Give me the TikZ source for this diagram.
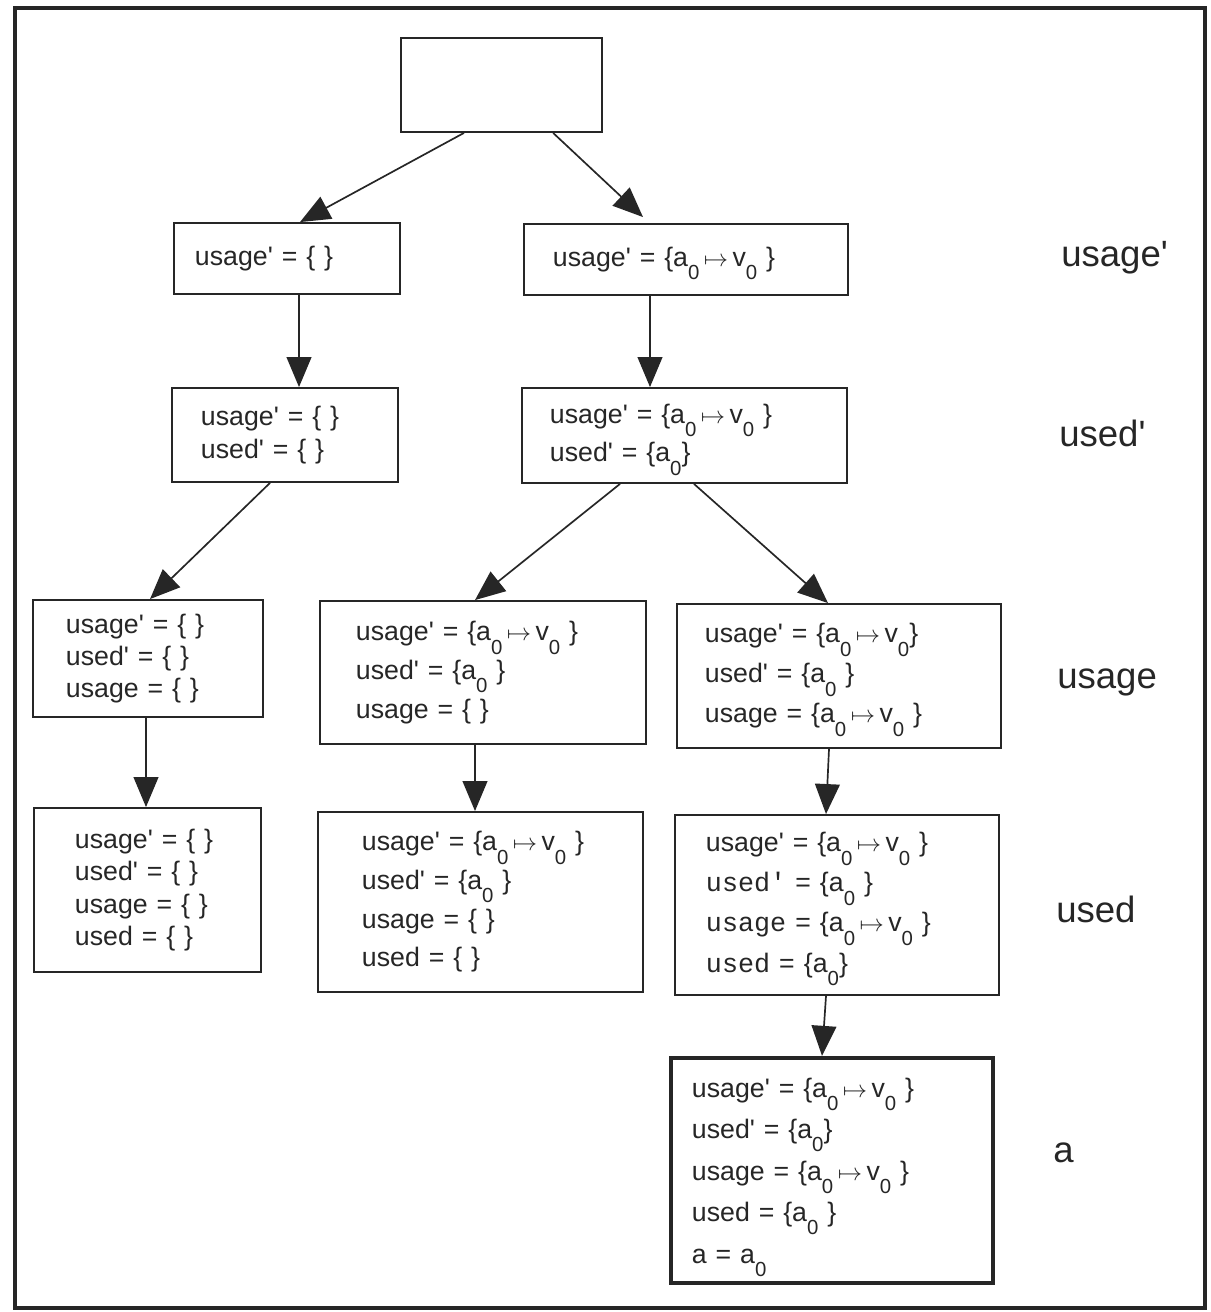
\documentclass[tikz,border=0pt]{standalone}
\usepackage{fontspec}
\setmainfont{Liberation Sans}
\setmonofont{Liberation Mono}
\usetikzlibrary{arrows.meta}
\newcommand{\subz}{\raisebox{-0.5em}[0pt][0pt]{\fontsize{14.5}{14.5}\selectfont 0}}
\newcommand{\pq}{\textquotesingle}
\newcommand{\maps}{\,$\mapsto$\,}
\tikzset{
	box/.style = {
		draw = black!85,
		line width = 1.3pt,
		align = left,
		text = black!85,
		font = \fontsize{19}{23}\selectfont
	},
	wide/.style = {
		font = \fontsize{19}{27.5}\selectfont
	},
	wider/.style = {
		font = \fontsize{19}{28.5}\selectfont
	},
	arr/.style = {
		draw = black!85,
		line width = 1.2pt,
		-{Triangle[length=0.75cm, width=0.62cm]}
	},
	rowlabel/.style = {
		anchor = base west,
		inner sep = 0pt,
		text = black!85,
		font = \fontsize{26}{30}\selectfont
	}
}

\begin{document}
\begin{tikzpicture}[x=0.025cm, y=-0.025cm]
		\useasboundingbox (0,0) rectangle (1210,1312);
		\draw[line width=2.6pt, black!85] (15,8) rectangle (1205,1308);

		\node[box, minimum width=5.025cm, minimum height=2.35cm] (root) at (501.5,85) {};

		\node[box, inner xsep=0.525cm, text width=4.6cm, minimum height=1.775cm] (usageP1) at (287,258.5)
			{usage\pq{} = \{ \}};
		\node[box, inner xsep=0.725cm, text width=6.65cm, minimum height=1.775cm] (usageP2) at (686,259.5)
			{usage\pq{} = \{a\subz\maps v\subz\ \}};

		\node[box, inner xsep=0.725cm, text width=4.2cm, minimum height=2.35cm] (usedP1) at (285,435)
			{usage\pq{} = \{ \}\\ used\pq{} = \{ \}};
		\node[box, wide, inner xsep=0.7cm, text width=6.725cm, minimum height=2.375cm] (usedP2) at (684.5,435.5)
			{usage\pq{} = \{a\subz\maps v\subz\ \}\\ used\pq{} = \{a\subz\}};

		\node[box, inner xsep=0.825cm, text width=4.1cm, minimum height=2.925cm] (usage1) at (148,658.5)
			{usage\pq{} = \{ \}\\ used\pq{} = \{ \}\\ usage = \{ \}};
		\node[box, wide, inner xsep=0.9cm, text width=6.35cm, minimum height=3.575cm] (usage2) at (483,672.5)
			{usage\pq{} = \{a\subz\maps v\subz\ \}\\ used\pq{} = \{a\subz\ \}\\ usage = \{ \}};
		\node[box, wider, inner xsep=0.7cm, text width=6.7cm, minimum height=3.6cm] (usage3) at (839,676)
			{usage\pq{} = \{a\subz\maps v\subz\}\\ used\pq{} = \{a\subz\ \}\\ usage = \{a\subz\maps v\subz\ \}};

		\node[box, inner xsep=1.025cm, text width=3.625cm, minimum height=4.1cm] (used1) at (147.5,890)
			{usage\pq{} = \{ \}\\ used\pq{} = \{ \}\\ usage = \{ \}\\ used = \{ \}};
		\node[box, wide, inner xsep=1.1cm, text width=5.925cm, minimum height=4.5cm] (used2) at (480.5,902)
			{usage\pq{} = \{a\subz\maps v\subz\ \}\\ used\pq{} = \{a\subz\ \}\\ usage = \{ \}\\ used = \{ \}};
		\node[box, wider, inner xsep=0.775cm, text width=6.55cm, minimum height=4.5cm] (used3) at (837,905)
			{usage\pq{} = \{a\subz\maps v\subz\ \}\\
			 {\ttfamily used' =} \{a\subz\ \}\\
			 {\ttfamily usage =} \{a\subz\maps v\subz\ \}\\
			 {\ttfamily used =} \{a\subz\}};

		\node[box, line width=3pt, inner xsep=0.525cm, text width=7cm, minimum height=5.625cm,
			font=\fontsize{19}{29.5}\selectfont] (final) at (832,1170.5)
			{usage\pq{} = \{a\subz\maps v\subz\ \}\\ used\pq{} = \{a\subz\}\\ usage = \{a\subz\maps v\subz\ \}\\
			 used = \{a\subz\ \}\\ a = a\subz};

		% connectors
		\draw[arr] ([xshift=-0.9375cm]root.south) -- ([xshift=0.325cm]usageP1.north);
		\draw[arr] ([xshift=1.29cm]root.south) -- ([xshift=-1.075cm,yshift=0.15cm]usageP2.north);
		\draw[arr] ([xshift=0.3cm]usageP1.south) -- ([xshift=0.35cm]usedP1.north);
		\draw[arr] ([xshift=-0.9cm]usageP2.south) -- ([xshift=-0.8625cm]usedP2.north);
		\draw[arr] ([xshift=-0.375cm]usedP1.south) -- ([xshift=0.05cm]usage1.north);
		\draw[arr] ([xshift=-1.6125cm]usedP2.south) -- ([xshift=-0.2cm]usage2.north);
		\draw[arr] ([xshift=0.2375cm]usedP2.south) -- ([xshift=-0.275cm]usage3.north);
		\draw[arr] ([xshift=-0.05cm]usage1.south) -- ([xshift=-0.0375cm]used1.north);
		\draw[arr] ([xshift=-0.2cm]usage2.south) -- ([xshift=-0.1375cm]used2.north);
		\draw[arr] ([xshift=-0.25cm]usage3.south) -- ([xshift=-0.275cm]used3.north);
		\draw[arr] ([xshift=-0.275cm]used3.south) -- ([xshift=-0.25cm]final.north);

		% row labels
		\node[rowlabel] (lblUsageP) at (1061,267) {usage\pq};
		\node[rowlabel] (lblUsedP) at (1059,446) {used\pq};
		\node[rowlabel] (lblUsage) at (1057,688) {usage};
		\node[rowlabel] (lblUsed) at (1056,922) {used};
		\node[rowlabel] (lblA) at (1053,1162) {a};
	\end{tikzpicture}
\end{document}
